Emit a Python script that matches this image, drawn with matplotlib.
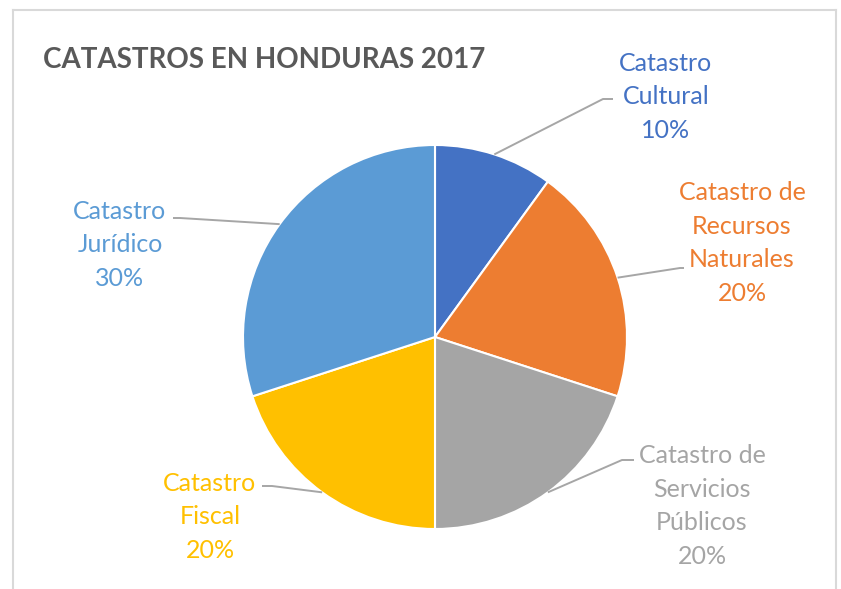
import matplotlib
matplotlib.use("Agg")
import matplotlib.pyplot as plt
import numpy as np

# data
categories = ["Catastro\nCultural", "Catastro de\nRecursos\nNaturales",
              "Catastro de\nServicios\nPúblicos", "Catastro\nFiscal",
              "Catastro\nJurídico"]
shares = [10, 20, 20, 20, 30]
colors = ["#4472C4", "#ED7D31", "#A5A5A5", "#FFC000", "#5B9BD5"]
title = "CATASTROS EN HONDURAS 2017"

W, H = 841, 589
plt.rcParams['font.family'] = ['Lato', 'DejaVu Sans']

fig = plt.figure(figsize=(W / 100, H / 100), dpi=100)
ax = fig.add_axes([0, 0, 1, 1])

# pie in pixel space (y measured from bottom)
cx, cy, r = 435, H - 337, 192
wedges, _ = ax.pie(shares, colors=colors, startangle=90, counterclock=False,
                   center=(cx, cy), radius=r, frame=True,
                   wedgeprops=dict(edgecolor='white', linewidth=1.5))
ax.set_xlim(0, W)
ax.set_ylim(0, H)
ax.set_aspect('equal')
ax.axis('off')

# label layout (px from top-left): text centre, leader elbow, leader end
label_xy = [(666, 97), (742, 243), (702, 506), (210, 517), (120, 245)]
elbow_xy = [(603, 99), (680, 268), (622, 460), (272, 486), (180, 218)]
end_xy = [(613, 99), (684, 268), (634, 460), (262, 486), (173, 218)]

for w, lab, val, col, (tx, ty), (ex, ey), (fx, fy) in zip(
        wedges, categories, shares, colors, label_xy, elbow_xy, end_xy):
    mid = np.deg2rad((w.theta1 + w.theta2) / 2)
    sx, sy = cx + r * np.cos(mid), cy + r * np.sin(mid)
    ax.plot([sx, ex, fx], [sy, H - ey, H - fy], color='#A6A6A6', lw=1.4,
            solid_capstyle='butt')
    ax.text(tx, H - ty, f"{lab}\n{val}%", color=col, fontsize=18,
            ha='center', va='center', linespacing=1.55)

ax.text(43, H - 60, title, color='#595959', fontsize=20, fontweight='bold',
        ha='left', va='center')

# chart frame
frame = dict(color='#D9D9D9', lw=1.5)
ax.plot([13, 836], [H - 10, H - 10], **frame)
ax.plot([13, 13], [H - 10, 0], **frame)
ax.plot([836, 836], [H - 10, 0], **frame)

fig.savefig("out.png", dpi=100)
